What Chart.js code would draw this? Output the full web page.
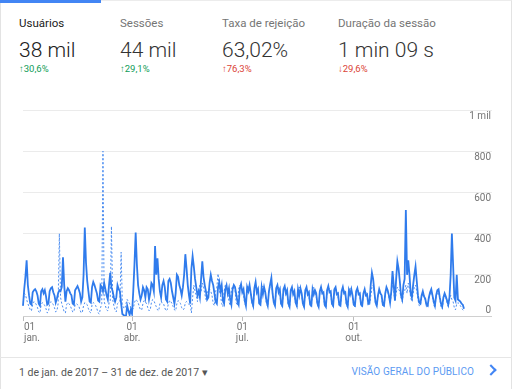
<!DOCTYPE html>
<html>
<head>
<meta charset="utf-8">
<script src="https://cdn.jsdelivr.net/npm/chart.js@4/dist/chart.umd.min.js"></script>
<style>
  body { margin: 0; width: 512px; height: 389px; background: #fff; font-family: Roboto, "Noto Sans", sans-serif; overflow: hidden; }
  .card { position: absolute; left: 0; top: 0; width: 510px; height: 400px; border-left: 1px solid #e3e3e3; border-right: 1px solid #e3e3e3; border-top: 1px solid #ececec; }
  .tab { position: absolute; left: 0; top: 0; width: 101px; height: 3px; background: #4285f4; }
  .metric { position: absolute; top: 15px; }
  .metric .title { font-size: 11.5px; color: #757575; line-height: 16px; }
  .metric .value { font-size: 21px; font-weight: 300; color: #333; line-height: 26px; margin-top: 6px; }
  .metric .delta { font-size: 9.5px; line-height: 12px; margin-top: 0px; }
  .metric .delta b { font-weight: bold; }
  .metric.sel .title, .metric.sel .value { color: #212121; }
  .up { color: #0f9d58; }
  .down { color: #db4437; }
  #wrap { position: absolute; left: 0; top: 100px; width: 512px; height: 250px; }
  .divider { position: absolute; left: 0; top: 357px; width: 512px; height: 1px; background: #e6e6e6; }
  .range { position: absolute; left: 19px; top: 366px; font-size: 10.5px; color: #555; }
  .link { position: absolute; right: 38px; top: 366px; font-size: 10px; color: #5c9af2; letter-spacing: 0.1px; }
  .chev { position: absolute; left: 487px; top: 366px; width: 6px; height: 6px; border-right: 2px solid #4285f4; border-top: 2px solid #4285f4; transform: rotate(45deg); }
</style>
</head>
<body>
<div class="card"></div>
<div class="tab"></div>
<div class="metric sel" style="left:19px"><div class="title">Usuários</div><div class="value">38 mil</div><div class="delta up"><b>↑</b>30,6%</div></div>
<div class="metric" style="left:120px"><div class="title">Sessões</div><div class="value">44 mil</div><div class="delta up"><b>↑</b>29,1%</div></div>
<div class="metric" style="left:222px"><div class="title">Taxa de rejeição</div><div class="value">63,02%</div><div class="delta down"><b>↑</b>76,3%</div></div>
<div class="metric" style="left:338px"><div class="title">Duração da sessão</div><div class="value">1 min 09 s</div><div class="delta down"><b>↓</b>29,6%</div></div>
<div id="wrap"><canvas id="chart"></canvas></div>
<div class="divider"></div>
<div class="range">1 de jan. de 2017 – 31 de dez. de 2017 ▾</div>
<div class="link">VISÃO GERAL DO PÚBLICO</div>
<div class="chev"></div>
<script>
// Daily users, 1 Jan - 31 Dec 2017 (one row per week, starting Sunday)
const users2017 = [
  50, 130, 190, 270, 150, 100, 60,
  55, 115, 125, 130, 120, 100, 60,
  50, 120, 130, 110, 125, 95, 55,
  60, 120, 135, 140, 115, 100, 65,
  85, 110, 125, 120, 140, 285, 150,
  70, 120, 135, 125, 110, 100, 60,
  55, 125, 135, 145, 130, 110, 70,
  90, 200, 430, 260, 170, 120, 70,
  65, 140, 165, 150, 130, 110, 75,
  70, 150, 140, 120, 160, 130, 100,
  80, 150, 210, 140, 120, 90, 70,
  90, 150, 130, 120, 60, 10, 5,
  0, 0, 50, 25, 5, 30, 10,
  120, 250, 405, 250, 150, 110, 80,
  100, 140, 125, 90, 140, 130, 80,
  110, 160, 150, 120, 340, 200, 280,
  180, 120, 90, 150, 170, 140, 80,
  70, 170, 180, 160, 120, 90, 60,
  110, 200, 190, 150, 130, 100, 140,
  200, 300, 230, 150, 100, 60, 230,
  290, 240, 180, 140, 100, 120, 90,
  180, 265, 190, 150, 120, 80, 90,
  160, 200, 170, 150, 110, 70, 60,
  140, 165, 120, 150, 75, 60, 130,
  150, 110, 135, 80, 55, 130, 150,
  140, 105, 70, 55, 135, 155, 115,
  130, 75, 50, 140, 120, 150, 110,
  70, 50, 135, 165, 115, 130, 60,
  55, 140, 105, 140, 115, 70, 50,
  120, 155, 185, 110, 65, 50, 135,
  150, 115, 130, 60, 50, 130, 145,
  110, 125, 60, 45, 125, 140, 105,
  120, 65, 50, 130, 100, 135, 110,
  60, 45, 125, 140, 105, 115, 55,
  50, 130, 105, 125, 110, 60, 45,
  120, 140, 110, 115, 55, 45, 125,
  145, 115, 120, 60, 50, 130, 140,
  105, 110, 55, 50, 120, 140, 110,
  115, 60, 45, 125, 105, 130, 100,
  55, 50, 120, 135, 105, 110, 55,
  50, 110, 130, 100, 105, 60, 65,
  150, 210, 180, 120, 65, 50, 100,
  130, 110, 100, 55, 50, 110, 140,
  125, 100, 65, 120, 218, 150, 75,
  180, 265, 230, 170, 100, 80, 150,
  180, 515, 200, 270, 200, 110, 90,
  150, 200, 240, 170, 100, 65, 60,
  100, 120, 95, 85, 55, 50, 90,
  115, 130, 100, 70, 50, 100, 125,
  130, 90, 60, 45, 90, 110, 95,
  75, 55, 90, 200, 400, 250, 90,
  75, 200, 80, 75, 70, 60, 55,
  35
];

// Same period of the previous year (dotted line)
const users2016 = [
  50, 110, 105, 80, 60, 45, 30,
  25, 60, 70, 65, 55, 40, 20,
  15, 55, 65, 60, 50, 35, 15,
  20, 60, 70, 65, 55, 40, 20,
  25, 60, 400, 90, 60, 40, 20,
  15, 55, 65, 60, 50, 35, 20,
  20, 55, 60, 55, 50, 30, 15,
  20, 50, 65, 60, 55, 35, 20,
  15, 55, 65, 60, 50, 35, 15,
  10, 40, 60, 800, 70, 50, 30,
  25, 60, 70, 435, 80, 50, 30,
  20, 60, 65, 70, 310, 60, 40,
  35, 60, 80, 70, 60, 40, 30,
  35, 65, 80, 75, 65, 45, 30,
  30, 60, 75, 70, 60, 40, 25,
  30, 65, 80, 75, 60, 45, 30,
  25, 60, 70, 65, 60, 40, 25,
  30, 60, 75, 70, 60, 45, 30,
  25, 60, 75, 70, 60, 40, 30,
  35, 65, 70, 65, 55, 60, 15,
  90, 150, 120, 100, 70, 130, 150,
  120, 160, 140, 110, 80, 100, 130,
  130, 120, 100, 60, 50, 120, 140,
  205, 130, 100, 60, 45, 120, 150,
  140, 120, 70, 50, 125, 145, 135,
  120, 65, 50, 130, 150, 140, 120,
  110, 60, 50, 135, 150, 140, 115,
  60, 45, 130, 150, 140, 110, 55,
  50, 135, 145, 130, 110, 60, 45,
  125, 145, 150, 115, 60, 45, 130,
  145, 135, 105, 55, 45, 125, 140,
  125, 100, 55, 40, 120, 135, 115,
  105, 60, 45, 125, 140, 130, 105,
  55, 40, 120, 135, 125, 95, 50,
  45, 125, 140, 120, 95, 55, 40,
  115, 135, 125, 100, 50, 40, 120,
  140, 130, 105, 55, 45, 125, 135,
  120, 95, 50, 45, 115, 135, 125,
  100, 55, 40, 120, 135, 125, 95,
  50, 45, 115, 130, 120, 95, 50,
  45, 105, 125, 115, 90, 55, 50,
  95, 140, 150, 110, 60, 45, 100,
  120, 115, 85, 50, 45, 105, 130,
  120, 95, 60, 110, 150, 120, 70,
  110, 140, 130, 120, 90, 70, 110,
  120, 150, 110, 160, 130, 90, 70,
  110, 140, 150, 120, 80, 50, 50,
  90, 110, 100, 75, 45, 40, 85,
  105, 115, 100, 55, 40, 95, 110,
  115, 85, 45, 35, 80, 100, 90,
  65, 45, 80, 100, 80, 70, 40,
  30, 60, 65, 60, 50, 40, 30,
  25
];

// x axis: one category per day, labelled at the start of each quarter
const days = [];
for (let d = new Date(2017, 0, 1); d.getFullYear() === 2017; d.setDate(d.getDate() + 1)) {
  days.push(d.getDate() + '/' + (d.getMonth() + 1));
}
const monthTicks = [0, 90, 181, 273];
const monthNames = ['jan.', 'abr.', 'jul.', 'out.'];

const yTicks = [0, 200, 400, 600, 800, 1000];
const yTickLabels = ['0', '200', '400', '600', '800', '1 mil'];

// Draws the axis labels the way Analytics places them
const axisLabels = {
  id: 'axisLabels',
  afterDraw(chart) {
    const ctx = chart.ctx;
    const x = chart.scales.x;
    const y = chart.scales.y;
    ctx.save();
    ctx.fillStyle = '#757575';
    ctx.font = '10px Roboto';
    ctx.textBaseline = 'middle';
    ctx.textAlign = 'right';
    yTicks.forEach((v, i) => {
      const py = y.getPixelForValue(v);
      ctx.fillText(yTickLabels[i], 491, v === 0 ? py - 6 : py + 6);
    });
    monthTicks.forEach((idx, i) => {
      const px = x.getPixelForValue(idx);
      ctx.textAlign = i === 0 ? 'left' : 'center';
      const tx = i === 0 ? px + 1 : px;
      ctx.fillText('01', tx, y.bottom + 11);
      ctx.fillText(monthNames[i], tx, y.bottom + 22);
    });
    ctx.restore();
  }
};

const ctx = document.getElementById('chart').getContext('2d');
new Chart(ctx, {
  type: 'line',
  data: {
    labels: days,
    datasets: [{
      label: 'Usuários',
      data: users2017,
      borderColor: '#2f7bec',
      borderWidth: 1.8,
      pointRadius: 0,
      tension: 0
    }, {
      label: 'Período anterior',
      data: users2016,
      borderColor: '#4a8cf0',
      borderWidth: 1,
      borderDash: [2, 2],
      pointRadius: 0,
      tension: 0
    }]
  },
  options: {
    responsive: true,
    maintainAspectRatio: false,
    animation: false,
    layout: { padding: { left: 23, right: 18, top: 10, bottom: 8 } },
    plugins: { legend: { display: false }, tooltip: { enabled: false } },
    scales: {
      x: {
        ticks: { display: false },
        border: { display: false },
        grid: {
          drawOnChartArea: false,
          drawTicks: true,
          tickLength: 5,
          color: c => monthTicks.includes(c.index) ? '#bdbdbd' : 'rgba(0,0,0,0)'
        },
        afterFit: s => { s.height = 26; }
      },
      y: {
        position: 'right',
        min: 0,
        max: 1000,
        ticks: { display: false, stepSize: 200 },
        border: { display: false },
        grid: {
          drawTicks: true,
          tickLength: 28,
          color: c => c.tick && c.tick.value === 0 ? '#d0d0d0' : '#ebebeb'
        },
        afterFit: s => { s.width = 30; }
      }
    }
  },
  plugins: [axisLabels]
});
</script>
</body>
</html>
